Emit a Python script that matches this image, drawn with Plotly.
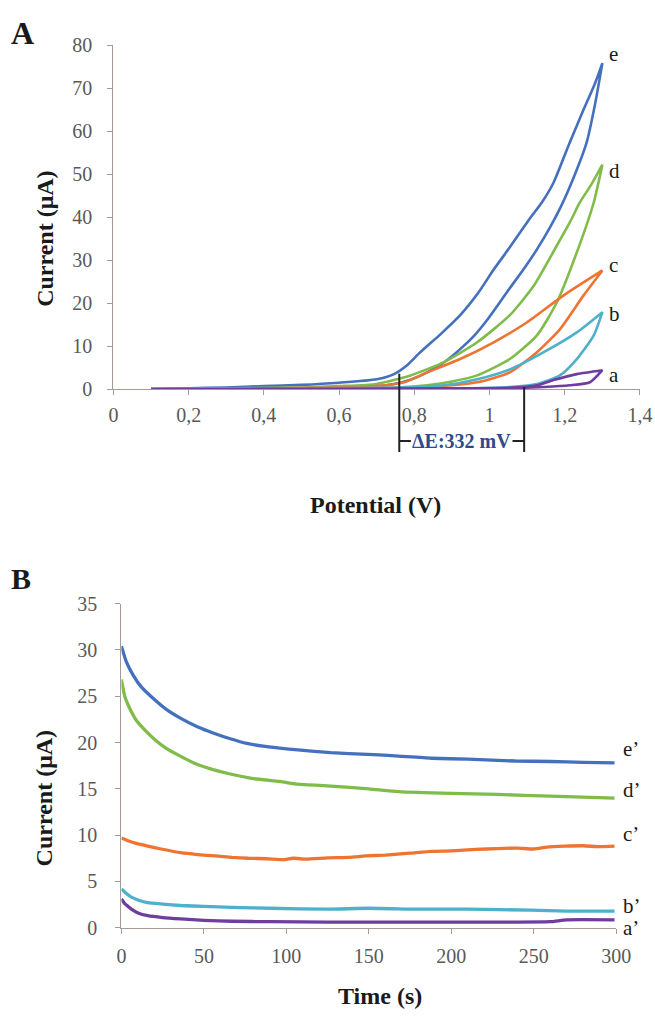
import plotly.graph_objects as go

# ---------------- Panel A: cyclic voltammograms ----------------
# each loop: anodic sweep up to 1.3 V, then return sweep back to 0.1 V
cv_labels = ["a", "b", "c", "d", "e"]

e_up_v = [0.10, 0.20, 0.30, 0.40, 0.50, 0.60, 0.70, 0.746, 0.78, 0.816, 0.87, 0.922, 0.97, 1.011, 1.05, 1.081, 1.11, 1.139, 1.17, 1.213, 1.25, 1.28, 1.30]
e_up_i = [0.0, 0.2, 0.4, 0.7, 1.0, 1.5, 2.3, 3.5, 5.5, 8.6, 12.8, 17.2, 22.4, 27.8, 32.5, 36.4, 40.0, 43.4, 48.0, 57.3, 65.0, 71.0, 75.8]
e_dn_v = [1.30, 1.28, 1.258, 1.225, 1.19, 1.16, 1.126, 1.09, 1.054, 1.02, 0.993, 0.96, 0.922, 0.88, 0.834, 0.79, 0.746, 0.70, 0.60, 0.50, 0.40, 0.30, 0.20, 0.10]
e_dn_i = [75.8, 66.0, 57.3, 49.5, 42.5, 37.5, 32.5, 27.8, 23.5, 19.3, 16.0, 12.5, 9.3, 6.3, 3.9, 2.2, 1.2, 0.7, 0.3, 0.1, 0.0, -0.1, -0.2, -0.2]

d_up_v = [0.10, 0.30, 0.50, 0.60, 0.70, 0.79, 0.879, 0.967, 1.054, 1.118, 1.179, 1.213, 1.240, 1.27, 1.30]
d_up_i = [0.0, 0.2, 0.4, 0.7, 1.2, 3.2, 6.3, 10.9, 17.2, 24.1, 33.4, 38.7, 43.4, 47.5, 52.2]
d_dn_v = [1.30, 1.277, 1.232, 1.179, 1.126, 1.054, 0.967, 0.90, 0.834, 0.75, 0.60, 0.40, 0.20, 0.10]
d_dn_i = [52.2, 43.4, 31.8, 20.2, 12.5, 7.0, 3.2, 1.8, 0.9, 0.4, 0.1, 0.0, -0.1, -0.1]

c_up_v = [0.10, 0.40, 0.60, 0.70, 0.773, 0.834, 0.922, 1.011, 1.099, 1.197, 1.30]
c_up_i = [0.0, 0.2, 0.4, 0.7, 1.6, 3.9, 7.0, 10.9, 15.5, 21.8, 27.6]
c_dn_v = [1.30, 1.25, 1.187, 1.126, 1.054, 0.967, 0.834, 0.70, 0.50, 0.30, 0.10]
c_dn_i = [27.6, 21.8, 13.9, 8.6, 3.9, 1.6, 0.5, 0.2, 0.0, -0.1, -0.1]

b_up_v = [0.10, 0.50, 0.70, 0.80, 0.879, 0.967, 1.054, 1.144, 1.232, 1.30]
b_up_i = [0.0, 0.2, 0.3, 0.5, 0.9, 2.3, 4.6, 8.6, 13.2, 17.9]
b_dn_v = [1.30, 1.277, 1.232, 1.187, 1.126, 1.054, 0.95, 0.80, 0.60, 0.30, 0.10]
b_dn_i = [17.9, 12.5, 7.0, 3.2, 1.2, 0.5, 0.2, 0.1, 0.0, -0.1, -0.1]

a_up_v = [0.10, 0.60, 0.90, 1.05, 1.126, 1.17, 1.232, 1.30]
a_up_i = [0.0, 0.1, 0.2, 0.3, 0.9, 2.1, 3.5, 4.4]
a_dn_v = [1.30, 1.267, 1.213, 1.144, 1.05, 0.90, 0.60, 0.10]
a_dn_i = [4.4, 1.6, 0.9, 0.5, 0.2, 0.1, 0.0, 0.0]

# onset potentials bracketing the ΔE marker (332 mV apart)
onset_low = 0.760
delta_e = 0.332

pot_ticks = [0, 0.2, 0.4, 0.6, 0.8, 1.0, 1.2, 1.4]
pot_tick_text = ["0", "0,2", "0,4", "0,6", "0,8", "1", "1,2", "1,4"]
cur_ticks_a = [0, 10, 20, 30, 40, 50, 60, 70, 80]

# ---------------- Panel B: chronoamperograms ----------------
ca_labels = ["a’", "b’", "c’", "d’", "e’"]

e2_t = [0, 3, 7, 12, 19, 27, 36, 46, 56, 66, 76, 86, 96, 107, 127, 138, 153, 170, 188, 210, 239, 260, 280, 299]
e2_i = [30.4, 28.7, 27.3, 26.0, 24.8, 23.6, 22.6, 21.7, 21.0, 20.4, 19.9, 19.6, 19.4, 19.2, 18.9, 18.8, 18.7, 18.5, 18.3, 18.2, 18.0, 17.95, 17.85, 17.8]
d2_t = [0, 2, 5, 9, 15, 21, 27, 36, 45, 55, 66, 80, 96, 107, 127, 150, 168, 200, 228, 260, 299]
d2_i = [26.8, 25.0, 23.7, 22.4, 21.2, 20.2, 19.4, 18.5, 17.7, 17.1, 16.6, 16.1, 15.8, 15.5, 15.3, 15.0, 14.7, 14.5, 14.4, 14.2, 14.0]
c2_t = [0, 4, 9, 16, 24, 36, 46, 57, 67, 77, 88, 99, 104, 112, 125, 138, 148, 160, 175, 188, 200, 215, 228, 240, 250, 258, 269, 280, 290, 299]
c2_i = [9.7, 9.4, 9.1, 8.8, 8.5, 8.1, 7.9, 7.75, 7.6, 7.5, 7.45, 7.35, 7.5, 7.4, 7.55, 7.6, 7.75, 7.85, 8.05, 8.25, 8.3, 8.45, 8.55, 8.6, 8.5, 8.7, 8.8, 8.85, 8.75, 8.8]
b2_t = [0, 3, 6, 10, 16, 25, 36, 50, 67, 90, 125, 150, 180, 210, 248, 270, 299]
b2_i = [4.2, 3.7, 3.3, 3.0, 2.7, 2.55, 2.4, 2.3, 2.2, 2.1, 2.0, 2.1, 2.0, 2.0, 1.9, 1.8, 1.8]
a2_t = [0, 2, 4, 6, 10, 16, 25, 36, 50, 67, 90, 125, 170, 220, 260, 270, 299]
a2_i = [3.1, 2.6, 2.3, 2.0, 1.6, 1.3, 1.1, 0.95, 0.8, 0.7, 0.65, 0.6, 0.6, 0.6, 0.65, 0.85, 0.85]

time_ticks = [0, 50, 100, 150, 200, 250, 300]
cur_ticks_b = [0, 5, 10, 15, 20, 25, 30, 35]

# ---------------- page geometry ----------------
# positions below are laid out on a 655 x 1019 grid; the figure sits inside the
# page body (8 px padding) and the grid is mapped onto it with these factors
FIG_W, FIG_H = 655, 1019
GRID_SX, GRID_SY, BODY_PAD = 0.968, 0.981, 8


def fx(col):
    """grid column -> paper fraction"""
    return min(1.0, max(0.0, (col / GRID_SX - BODY_PAD) / FIG_W))


def fy(row):
    """grid row -> paper fraction"""
    return min(1.0, max(0.0, 1 - (row / GRID_SY - BODY_PAD) / FIG_H))


colors = {"a": "#6E3D9E", "b": "#4DB1CB", "c": "#EF7431", "d": "#80BC4A", "e": "#4470BE"}
serif = "Liberation Serif, Times New Roman, serif"
tick_color = "#595959"
axis_color = "#a49a96"
ink = "#1a1a1a"

dom_a_x = [fx(116), fx(643.5)]
dom_a_y = [fy(387), fy(42)]
dom_b_x = [fx(124), fx(618)]
dom_b_y = [fy(927), fy(602)]
range_a_x = [0, 1.4]
range_a_y = [0, 80]

fig = go.Figure()

cv_data = {
    "e": (e_up_v + e_dn_v, e_up_i + e_dn_i),
    "d": (d_up_v + d_dn_v, d_up_i + d_dn_i),
    "c": (c_up_v + c_dn_v, c_up_i + c_dn_i),
    "b": (b_up_v + b_dn_v, b_up_i + b_dn_i),
    "a": (a_up_v + a_dn_v, a_up_i + a_dn_i),
}
for key in ["e", "d", "c", "b", "a"]:
    v, i = cv_data[key]
    fig.add_trace(go.Scatter(
        x=v, y=i, mode="lines", xaxis="x", yaxis="y",
        line=dict(color=colors[key], width=2.6, shape="spline", smoothing=0.6),
        showlegend=False, hoverinfo="skip"))

ca_data = {
    "e": (e2_t, e2_i), "d": (d2_t, d2_i), "c": (c2_t, c2_i),
    "b": (b2_t, b2_i), "a": (a2_t, a2_i),
}
for key in ["e", "d", "c", "b", "a"]:
    t, i = ca_data[key]
    fig.add_trace(go.Scatter(
        x=t, y=i, mode="lines", xaxis="x2", yaxis="y2",
        line=dict(color=colors[key], width=3.3, shape="spline", smoothing=0.5),
        showlegend=False, hoverinfo="skip"))

tickfont = dict(family=serif, size=20, color=tick_color)
common_axis = dict(showgrid=False, zeroline=False, showline=True, linecolor=axis_color,
                   linewidth=1.3, ticks="outside", ticklen=5, tickcolor=axis_color,
                   tickfont=tickfont)

fig.update_layout(
    width=FIG_W, height=FIG_H,
    margin=dict(l=0, r=0, t=0, b=0),
    paper_bgcolor="white", plot_bgcolor="white",
    xaxis=dict(domain=dom_a_x, range=range_a_x, anchor="y", tickvals=pot_ticks,
               ticktext=pot_tick_text, ticklabelstandoff=3, **common_axis),
    yaxis=dict(domain=dom_a_y, range=range_a_y, anchor="x", tickvals=cur_ticks_a,
               ticklabelstandoff=11, **common_axis),
    xaxis2=dict(domain=dom_b_x, range=[0, 300], anchor="y2", tickvals=time_ticks,
                ticklabelstandoff=5, **common_axis),
    yaxis2=dict(domain=dom_b_y, range=[0, 35], anchor="x2", tickvals=cur_ticks_b,
                ticklabelstandoff=14, **common_axis),
)


def pot_to_paper(v):
    return dom_a_x[0] + (v - range_a_x[0]) / (range_a_x[1] - range_a_x[0]) * (dom_a_x[1] - dom_a_x[0])


def cur_to_paper(i):
    return dom_a_y[0] + (i - range_a_y[0]) / (range_a_y[1] - range_a_y[0]) * (dom_a_y[1] - dom_a_y[0])


# ΔE bracket between the two onset potentials
onset_high = onset_low + delta_e
bracket_bottom = fy(450)
bracket_mid = fy(439)
arm = 12 / FIG_W
line_style = dict(color="#222222", width=2)
xl, xr = pot_to_paper(onset_low), pot_to_paper(onset_high)
fig.add_shape(type="line", xref="paper", yref="paper", x0=xl, x1=xl,
              y0=cur_to_paper(3.6), y1=bracket_bottom, line=line_style)
fig.add_shape(type="line", xref="paper", yref="paper", x0=xr, x1=xr,
              y0=cur_to_paper(0.5), y1=bracket_bottom, line=line_style)
fig.add_shape(type="line", xref="paper", yref="paper", x0=xl, x1=xl + arm,
              y0=bracket_mid, y1=bracket_mid, line=line_style)
fig.add_shape(type="line", xref="paper", yref="paper", x0=xr - arm, x1=xr,
              y0=bracket_mid, y1=bracket_mid, line=line_style)
fig.add_annotation(x=(xl + xr) / 2, y=bracket_mid, xref="paper", yref="paper",
                   xanchor="center", yanchor="middle",
                   text="<b>ΔE:332 mV</b>", showarrow=False,
                   font=dict(family=serif, size=20, color="#2E4B8C"))

# curve labels at the end of each trace
label_font = dict(family=serif, size=21, color=ink)
cv_shift = {"e": 9, "d": -6, "c": 5, "b": -2, "a": -5}
for key in cv_labels:
    v, i = cv_data[key]
    fig.add_annotation(x=max(v), y=max(i), xref="x", yref="y", text=key, showarrow=False,
                       xanchor="left", yanchor="middle", xshift=5, yshift=cv_shift[key],
                       font=label_font)

ca_shift = {"e": 14, "d": 8, "c": 12, "b": 5, "a": -8}
for key, lab in zip(cv_labels, ca_labels):
    t, i = ca_data[key]
    fig.add_annotation(x=300, y=i[-1], xref="x2", yref="y2", text=lab, showarrow=False,
                       xanchor="left", yanchor="middle", xshift=5, yshift=ca_shift[key],
                       font=label_font)

# axis titles and panel letters
title_font = dict(family=serif, size=24, color=ink)


def paper_text(text, col, row, font, angle=0):
    fig.add_annotation(x=fx(col), y=fy(row), xref="paper", yref="paper", text=text,
                       showarrow=False, xanchor="center", yanchor="middle",
                       textangle=angle, font=font)


paper_text("<b>Potential (V)</b>", 378, 503, title_font)
paper_text("<b>Time (s)</b>", 382, 995, title_font)
paper_text("<b>Current (μA)</b>", 47, 236, title_font, -90)
paper_text("<b>Current (μA)</b>", 47, 797, title_font, -90)
paper_text("<b>A</b>", 25, 30, dict(family=serif, size=32, color=ink))
paper_text("<b>B</b>", 24, 577, dict(family=serif, size=30, color=ink))

fig.write_html("out.html")
